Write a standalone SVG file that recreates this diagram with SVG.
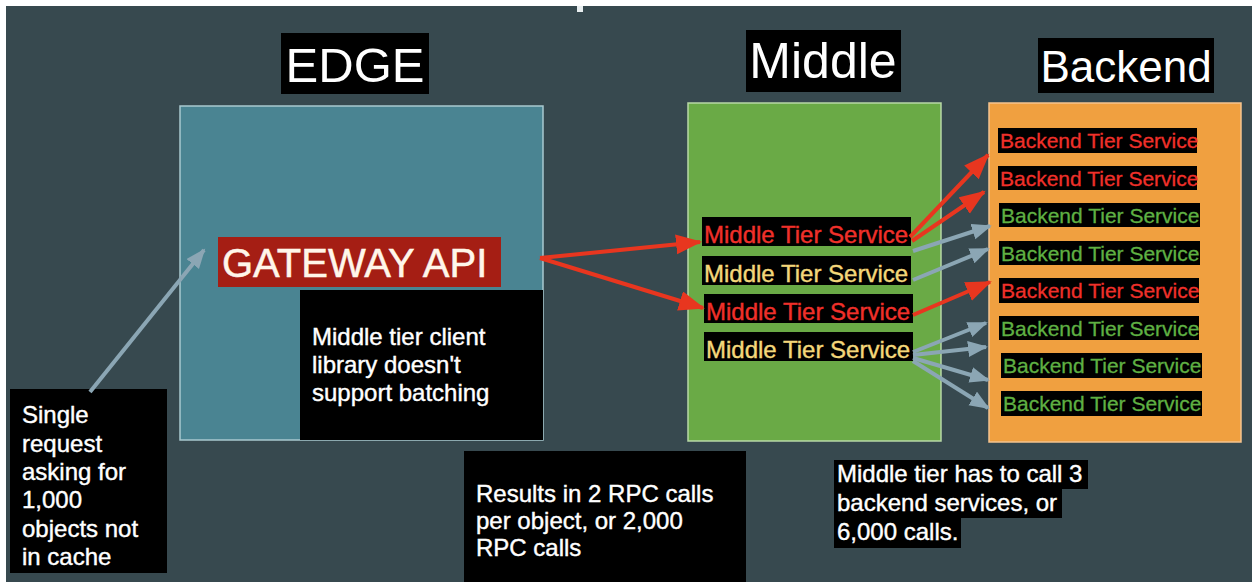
<svg xmlns="http://www.w3.org/2000/svg" width="1252" height="582" viewBox="0 0 1252 582">
  <defs>
    <style>
      text { font-family: "Liberation Sans", Arial, sans-serif; }
      .head { fill: #ffffff; text-anchor: middle; }
      .note { fill: #ffffff; stroke: #ffffff; stroke-width: 0.4; font-size: 24px; }
      .blk { fill: #000000; }
      .mts { font-size: 24px; stroke-width: 0.4; }
      .bts { font-size: 21px; stroke-width: 0.3; }
      .red { fill: #f0302a; stroke: #f0302a; }
      .yel { fill: #f4d77a; stroke: #f4d77a; }
      .grn { fill: #5fb043; stroke: #5fb043; }
      .ra { stroke: #e8361f; stroke-width: 4; fill: none; marker-end: url(#headRed); }
      .ga { stroke: #8ba6b4; stroke-width: 4; fill: none; marker-end: url(#headGray); }
    </style>
    <marker id="headRed" markerUnits="userSpaceOnUse" markerWidth="28" markerHeight="22" refX="24" refY="10" orient="auto">
      <path d="M0,0 L26,10 L0,20 z" fill="#e8361f"/>
    </marker>
    <marker id="headGray" markerUnits="userSpaceOnUse" markerWidth="22" markerHeight="18" refX="18" refY="8" orient="auto">
      <path d="M0,0 L20,8 L0,16 z" fill="#8ba6b4"/>
    </marker>
  </defs>

  <!-- canvas -->
  <rect x="0" y="0" width="1252" height="582" fill="#ffffff"/>
  <rect x="6" y="6" width="1246" height="576" fill="#37494f"/>
  <rect x="577" y="6" width="6" height="6" fill="#e8eef0"/>

  <!-- tier headings -->
  <g id="edge-title">
    <rect class="blk" x="281" y="33" width="148" height="61"/>
    <text class="head" x="355" y="82" font-size="49">EDGE</text>
  </g>
  <g id="middle-title">
    <rect class="blk" x="746" y="30" width="155" height="62"/>
    <text class="head" x="823" y="78" font-size="50">Middle</text>
  </g>
  <g id="backend-title">
    <rect class="blk" x="1038" y="38" width="176" height="55"/>
    <text class="head" x="1126" y="82" font-size="44">Backend</text>
  </g>

  <!-- edge tier -->
  <g id="edge">
    <rect x="180" y="106" width="363" height="334" fill="#4a8492" stroke="#a9c9cf" stroke-width="1.5"/>
  </g>
  <g id="gateway-api">
    <rect x="218" y="237" width="283" height="50" fill="#a51e14"/>
    <text x="222" y="277" font-size="40" fill="#fff6ea" stroke="#fff6ea" stroke-width="0.5">GATEWAY API</text>
  </g>
  <g id="client-note">
    <rect class="blk" x="300" y="290" width="243" height="150"/>
    <text class="note" x="312" y="345">Middle tier client</text>
    <text class="note" x="312" y="373">library doesn't</text>
    <text class="note" x="312" y="401">support batching</text>
  </g>

  <!-- middle tier -->
  <g id="middle">
    <rect x="688" y="103" width="253" height="338" fill="#6aaa46" stroke="#b8d8a6" stroke-width="1.5"/>
  </g>
  <g id="mts-1">
    <rect class="blk" x="702" y="217" width="209" height="29"/>
    <text class="mts red" x="704" y="243">Middle Tier Service</text>
  </g>
  <g id="mts-2">
    <rect class="blk" x="702" y="256" width="209" height="29"/>
    <text class="mts yel" x="704" y="282">Middle Tier Service</text>
  </g>
  <g id="mts-3">
    <rect class="blk" x="704" y="294" width="209" height="29"/>
    <text class="mts red" x="706" y="320">Middle Tier Service</text>
  </g>
  <g id="mts-4">
    <rect class="blk" x="704" y="332" width="209" height="29"/>
    <text class="mts yel" x="706" y="358">Middle Tier Service</text>
  </g>

  <!-- backend tier -->
  <g id="backend">
    <rect x="989" y="103" width="252" height="339" fill="#f0a040" stroke="#f6c48e" stroke-width="1.5"/>
  </g>
  <g id="bts-1">
    <rect class="blk" x="998" y="128" width="199" height="25"/>
    <text class="bts red" x="1000" y="148">Backend Tier Service</text>
  </g>
  <g id="bts-2">
    <rect class="blk" x="998" y="166" width="199" height="24"/>
    <text class="bts red" x="1000" y="186">Backend Tier Service</text>
  </g>
  <g id="bts-3">
    <rect class="blk" x="999" y="203" width="201" height="24"/>
    <text class="bts grn" x="1001" y="223">Backend Tier Service</text>
  </g>
  <g id="bts-4">
    <rect class="blk" x="999" y="241" width="201" height="24"/>
    <text class="bts grn" x="1001" y="261">Backend Tier Service</text>
  </g>
  <g id="bts-5">
    <rect class="blk" x="999" y="278" width="200" height="25"/>
    <text class="bts red" x="1001" y="298">Backend Tier Service</text>
  </g>
  <g id="bts-6">
    <rect class="blk" x="999" y="316" width="200" height="24"/>
    <text class="bts grn" x="1001" y="336">Backend Tier Service</text>
  </g>
  <g id="bts-7">
    <rect class="blk" x="1001" y="353" width="201" height="25"/>
    <text class="bts grn" x="1003" y="373">Backend Tier Service</text>
  </g>
  <g id="bts-8">
    <rect class="blk" x="1001" y="391" width="201" height="25"/>
    <text class="bts grn" x="1003" y="411">Backend Tier Service</text>
  </g>

  <!-- callouts -->
  <g id="request-note">
    <rect class="blk" x="10" y="389" width="157" height="184"/>
    <text class="note" x="22" y="423">Single</text>
    <text class="note" x="22" y="452">request</text>
    <text class="note" x="22" y="480">asking for</text>
    <text class="note" x="22" y="508">1,000</text>
    <text class="note" x="22" y="537">objects not</text>
    <text class="note" x="22" y="565">in cache</text>
  </g>
  <g id="rpc-note">
    <rect class="blk" x="464" y="451" width="282" height="131"/>
    <text class="note" x="476" y="502">Results in 2 RPC calls</text>
    <text class="note" x="476" y="529">per object, or 2,000</text>
    <text class="note" x="476" y="556">RPC calls</text>
  </g>
  <g id="fanout-note">
    <rect class="blk" x="834" y="460" width="254" height="29"/>
    <rect class="blk" x="834" y="489" width="228" height="29"/>
    <rect class="blk" x="834" y="518" width="127" height="30"/>
    <text class="note" x="837" y="482">Middle tier has to call 3</text>
    <text class="note" x="837" y="511">backend services, or</text>
    <text class="note" x="837" y="540">6,000 calls.</text>
  </g>

  <!-- connectors -->
  <g id="connectors">
    <line class="ga" x1="90" y1="392" x2="204" y2="250"/>
    <line class="ra" x1="540" y1="258" x2="700" y2="242"/>
    <line class="ra" x1="540" y1="258" x2="703" y2="308"/>
    <line class="ra" x1="910" y1="237" x2="988" y2="155"/>
    <line class="ra" x1="912" y1="241" x2="984" y2="192"/>
    <line class="ra" x1="913" y1="315" x2="990" y2="282"/>
    <line class="ga" x1="913" y1="251" x2="990" y2="226"/>
    <line class="ga" x1="913" y1="280" x2="988" y2="249"/>
    <line class="ga" x1="913" y1="352" x2="986" y2="323"/>
    <line class="ga" x1="913" y1="355" x2="986" y2="347"/>
    <line class="ga" x1="913" y1="358" x2="988" y2="380"/>
    <line class="ga" x1="913" y1="361" x2="988" y2="408"/>
  </g>
</svg>
